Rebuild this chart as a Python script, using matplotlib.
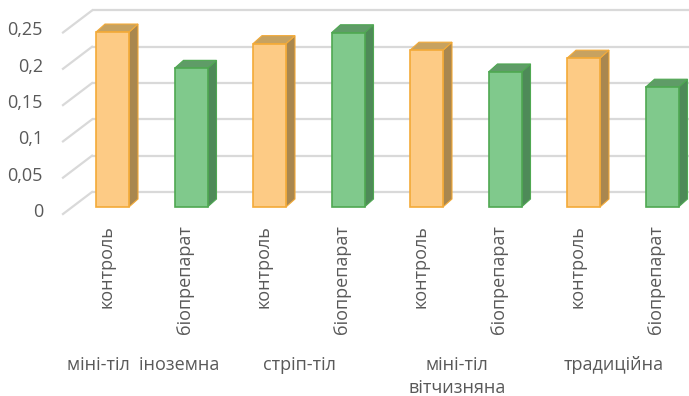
import matplotlib
matplotlib.use("Agg")
import matplotlib.pyplot as plt
from matplotlib.patches import Polygon

# ---- data ----
treatments = ["контроль", "біопрепарат"] * 4
groups = ["міні-тіл  іноземна", "стріп-тіл", "міні-тіл\nвітчизняна", "традиційна"]
values = [0.241, 0.191, 0.225, 0.240, 0.216, 0.186, 0.205, 0.165]
y_ticks = [0, 0.05, 0.1, 0.15, 0.2, 0.25]
y_tick_labels = ["0", "0,05", "0,1", "0,15", "0,2", "0,25"]

# ---- style ----
plt.rcParams["font.family"] = ["Open Sans", "DejaVu Sans"]
TEXT = "#595959"
GRID = "#d9d9d9"
STYLE = {
    "контроль": dict(front="#fdcb85", edge="#f3aa38", side="#a9874f", top="#c7a260"),
    "біопрепарат": dict(front="#80c98c", edge="#4fa852", side="#4e8a58", top="#5f9c67"),
}

W, H = 689, 396
fig = plt.figure(figsize=(W / 100, H / 100), dpi=100)
ax = fig.add_axes([0, 0, 1, 1])

# one category step and one value unit expressed in pixels
px_x = 78.5
px_y = 726.0
x0_px, y0_px = 112.5, 207.0
ax.set_xlim(-x0_px / px_x, (W - x0_px) / px_x)
ax.set_ylim((y0_px - H) / px_y, y0_px / px_y)
ax.axis("off")

def dx(p):
    return p / px_x

def dy(p):
    return p / px_y

# depth geometry (oblique projection)
bar_w = dx(33)
bar_dx, bar_dy = dx(9), dy(8)          # bar depth
back_dy = dy(15)                        # back wall above bar front
front_dy = -dy(7)                       # front edge of floor below bar front
wall_x = dx(92 - x0_px)                 # left end of back wall
side_x = dx(63 - x0_px)                 # front end of side wall lines
right_x = dx(W - x0_px) + 0.2

# gridlines: back wall + side wall diagonals
for t in y_ticks:
    yb = t + back_dy
    ax.plot([wall_x, right_x], [yb, yb], color=GRID, lw=1.6, zorder=1,
            solid_capstyle="butt")
    ax.plot([side_x, wall_x], [t + front_dy, yb], color=GRID, lw=1.6, zorder=1)

# y tick labels
for t, lab in zip(y_ticks, y_tick_labels):
    ax.text(dx(43 - x0_px), t + front_dy + dy(2), lab, ha="right", va="center",
            fontsize=13, color=TEXT)

# bars
xs = list(range(len(values)))
for x, v, name in zip(xs, values, treatments):
    st = STYLE[name]
    ax.bar(x, v, width=bar_w, color=st["front"], edgecolor=st["edge"],
           linewidth=1.2, zorder=3)
    xr = x + bar_w / 2
    xl = x - bar_w / 2
    side = Polygon([(xr, 0), (xr + bar_dx, bar_dy), (xr + bar_dx, v + bar_dy), (xr, v)],
                   closed=True, facecolor=st["side"], edgecolor=st["edge"],
                   linewidth=0.8, zorder=2)
    top = Polygon([(xl, v), (xr, v), (xr + bar_dx, v + bar_dy), (xl + bar_dx, v + bar_dy)],
                  closed=True, facecolor=st["top"], edgecolor=st["edge"],
                  linewidth=0.8, zorder=2)
    ax.add_patch(side)
    ax.add_patch(top)

# category labels (rotated)
for x, name in zip(xs, treatments):
    ax.text(x - dx(6), -dy(225 - y0_px), name, rotation=90, ha="center", va="top",
            fontsize=13, color=TEXT)

# group labels
for g, name in enumerate(groups):
    xc = (xs[2 * g] + xs[2 * g + 1]) / 2 - dx(9)
    ax.text(xc, -dy(356 - y0_px), name, ha="center", va="top", fontsize=13,
            color=TEXT, multialignment="center", linespacing=1.35)

fig.savefig("out.png", dpi=100, facecolor="white")
